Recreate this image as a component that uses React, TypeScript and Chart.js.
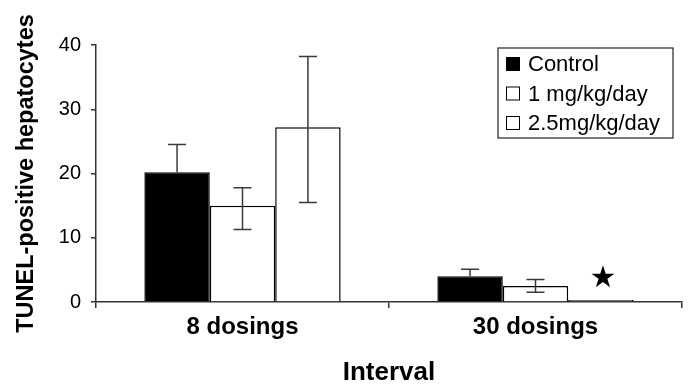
import React, { useEffect, useRef } from "react";
import { Chart, registerables } from "chart.js";

Chart.register(...registerables);

const categories = ["8 dosings", "30 dosings"];
const seriesLabels = ["Control", "1 mg/kg/day", "2.5mg/kg/day"];
const controlValues = [20.2, 4.0];
const mg1Values = [15.0, 2.5];
const mg25Values = [27.2, 0.3];
const controlHigh = [24.5, 5.1];
const controlLow = [20.2, 4.0];
const mg1High = [17.8, 3.5];
const mg1Low = [11.3, 1.5];
const mg25High: (number | null)[] = [38.2, null];
const mg25Low: (number | null)[] = [15.5, null];
const mg25Significant = [false, true];
const yTicks = [0, 10, 20, 30, 40];
const yTitle = "TUNEL-positive hepatocytes";
const xTitle = "Interval";

const FONT = "'Liberation Sans', Arial, Helvetica, sans-serif";

export default function App() {
  const ref = useRef<HTMLCanvasElement | null>(null);

  useEffect(() => {
    const canvas = ref.current;
    if (!canvas) return;
    const highs = [controlHigh, mg1High, mg25High];
    const lows = [controlLow, mg1Low, mg25Low];

    const errorBars = {
      id: "errorBars",
      afterDatasetsDraw(chart: any) {
        const ctx = chart.ctx;
        const y = chart.scales.y;
        ctx.save();
        ctx.strokeStyle = "#3a3a3a";
        ctx.lineWidth = 1.5;
        chart.data.datasets.forEach((ds: any, i: number) => {
          const meta = chart.getDatasetMeta(i);
          meta.data.forEach((bar: any, j: number) => {
            const hi = highs[i][j];
            const lo = lows[i][j];
            if (hi == null || lo == null) return;
            const x = bar.x;
            const yh = y.getPixelForValue(hi);
            const yl = y.getPixelForValue(lo);
            const cap = 9;
            ctx.beginPath();
            ctx.moveTo(x, yh);
            ctx.lineTo(x, yl);
            ctx.moveTo(x - cap, yh);
            ctx.lineTo(x + cap, yh);
            if (lo !== ds.data[j]) {
              ctx.moveTo(x - cap, yl);
              ctx.lineTo(x + cap, yl);
            }
            ctx.stroke();
          });
        });
        const meta2 = chart.getDatasetMeta(2);
        meta2.data.forEach((bar: any, j: number) => {
          if (!mg25Significant[j]) return;
          ctx.fillStyle = "#000";
          ctx.font = "30px 'DejaVu Sans', sans-serif";
          ctx.textAlign = "center";
          ctx.textBaseline = "middle";
          ctx.fillText("★", bar.x + 2, y.getPixelForValue(mg25Values[j]) - 21);
        });
        ctx.restore();
      },
    };

    const boxLegend = {
      id: "boxLegend",
      afterDraw(chart: any) {
        const ctx = chart.ctx;
        const area = chart.chartArea;
        const w = 175;
        const h = 90;
        const left = area.right - 9 - w;
        const top = area.top + 3;
        ctx.save();
        ctx.strokeStyle = "#222";
        ctx.lineWidth = 1.2;
        ctx.strokeRect(left, top, w, h);
        ctx.font = `22px ${FONT}`;
        ctx.textBaseline = "middle";
        ctx.textAlign = "left";
        chart.data.datasets.forEach((ds: any, i: number) => {
          const cy = top + 16 + i * 29.5;
          ctx.fillStyle = ds.backgroundColor;
          ctx.fillRect(left + 8, cy - 7, 14, 14);
          ctx.strokeStyle = "#000";
          ctx.lineWidth = 1;
          ctx.strokeRect(left + 8.5, cy - 6.5, 13, 13);
          ctx.fillStyle = "#000";
          ctx.fillText(ds.label, left + 30, cy + 1);
        });
        ctx.restore();
      },
    };

    const chart = new Chart(canvas, {
      type: "bar",
      data: {
        labels: categories,
        datasets: [
          {
            label: seriesLabels[0],
            data: controlValues,
            backgroundColor: "#000000",
            borderColor: "#000000",
            borderWidth: 1.5,
          },
          {
            label: seriesLabels[1],
            data: mg1Values,
            backgroundColor: "#ffffff",
            borderColor: "#000000",
            borderWidth: 1.5,
          },
          {
            label: seriesLabels[2],
            data: mg25Values,
            backgroundColor: "#ffffff",
            borderColor: "#000000",
            borderWidth: 1.5,
          },
        ],
      },
      plugins: [errorBars, boxLegend],
      options: {
        animation: false,
        responsive: true,
        maintainAspectRatio: false,
        datasets: { bar: { categoryPercentage: 0.67, barPercentage: 1.0 } },
        layout: { padding: { top: 45, right: 7, left: 0, bottom: 0 } },
        plugins: {
          legend: { display: false },
          tooltip: { enabled: false },
        },
        scales: {
          x: {
            afterFit(scale: any) {
              scale.height = 88;
            },
            grid: {
              display: true,
              offset: true,
              drawOnChartArea: false,
              drawTicks: true,
              tickLength: 6,
              color: "#333",
              lineWidth: 1.5,
            },
            border: { display: true, color: "#333", width: 1.5 },
            ticks: {
              color: "#000",
              padding: 5,
              font: { family: FONT, size: 24, weight: "bold" },
            },
            title: {
              display: true,
              text: xTitle,
              color: "#000",
              font: { family: FONT, size: 26, weight: "bold" },
              padding: { top: 0, bottom: 2 },
            },
          },
          y: {
            min: 0,
            max: 40,
            afterFit(scale: any) {
              scale.width = 96;
            },
            afterBuildTicks(scale: any) {
              scale.ticks = yTicks.map((v) => ({ value: v }));
            },
            grid: {
              display: true,
              drawOnChartArea: false,
              drawTicks: true,
              tickLength: 5,
              color: "#333",
              lineWidth: 1.5,
            },
            border: { display: true, color: "#333", width: 1.5 },
            ticks: {
              color: "#000",
              padding: 10,
              font: { family: FONT, size: 20 },
            },
            title: {
              display: true,
              text: yTitle,
              color: "#000",
              font: { family: FONT, size: 23.5, weight: "bold" },
              padding: { top: 12, bottom: 0 },
            },
          },
        },
      },
    } as any);
    return () => chart.destroy();
  }, []);

  return (
    <div style={{ position: "fixed", left: 0, top: 0, width: 689, height: 390, background: "#fff" }}>
      <canvas ref={ref} />
    </div>
  );
}
